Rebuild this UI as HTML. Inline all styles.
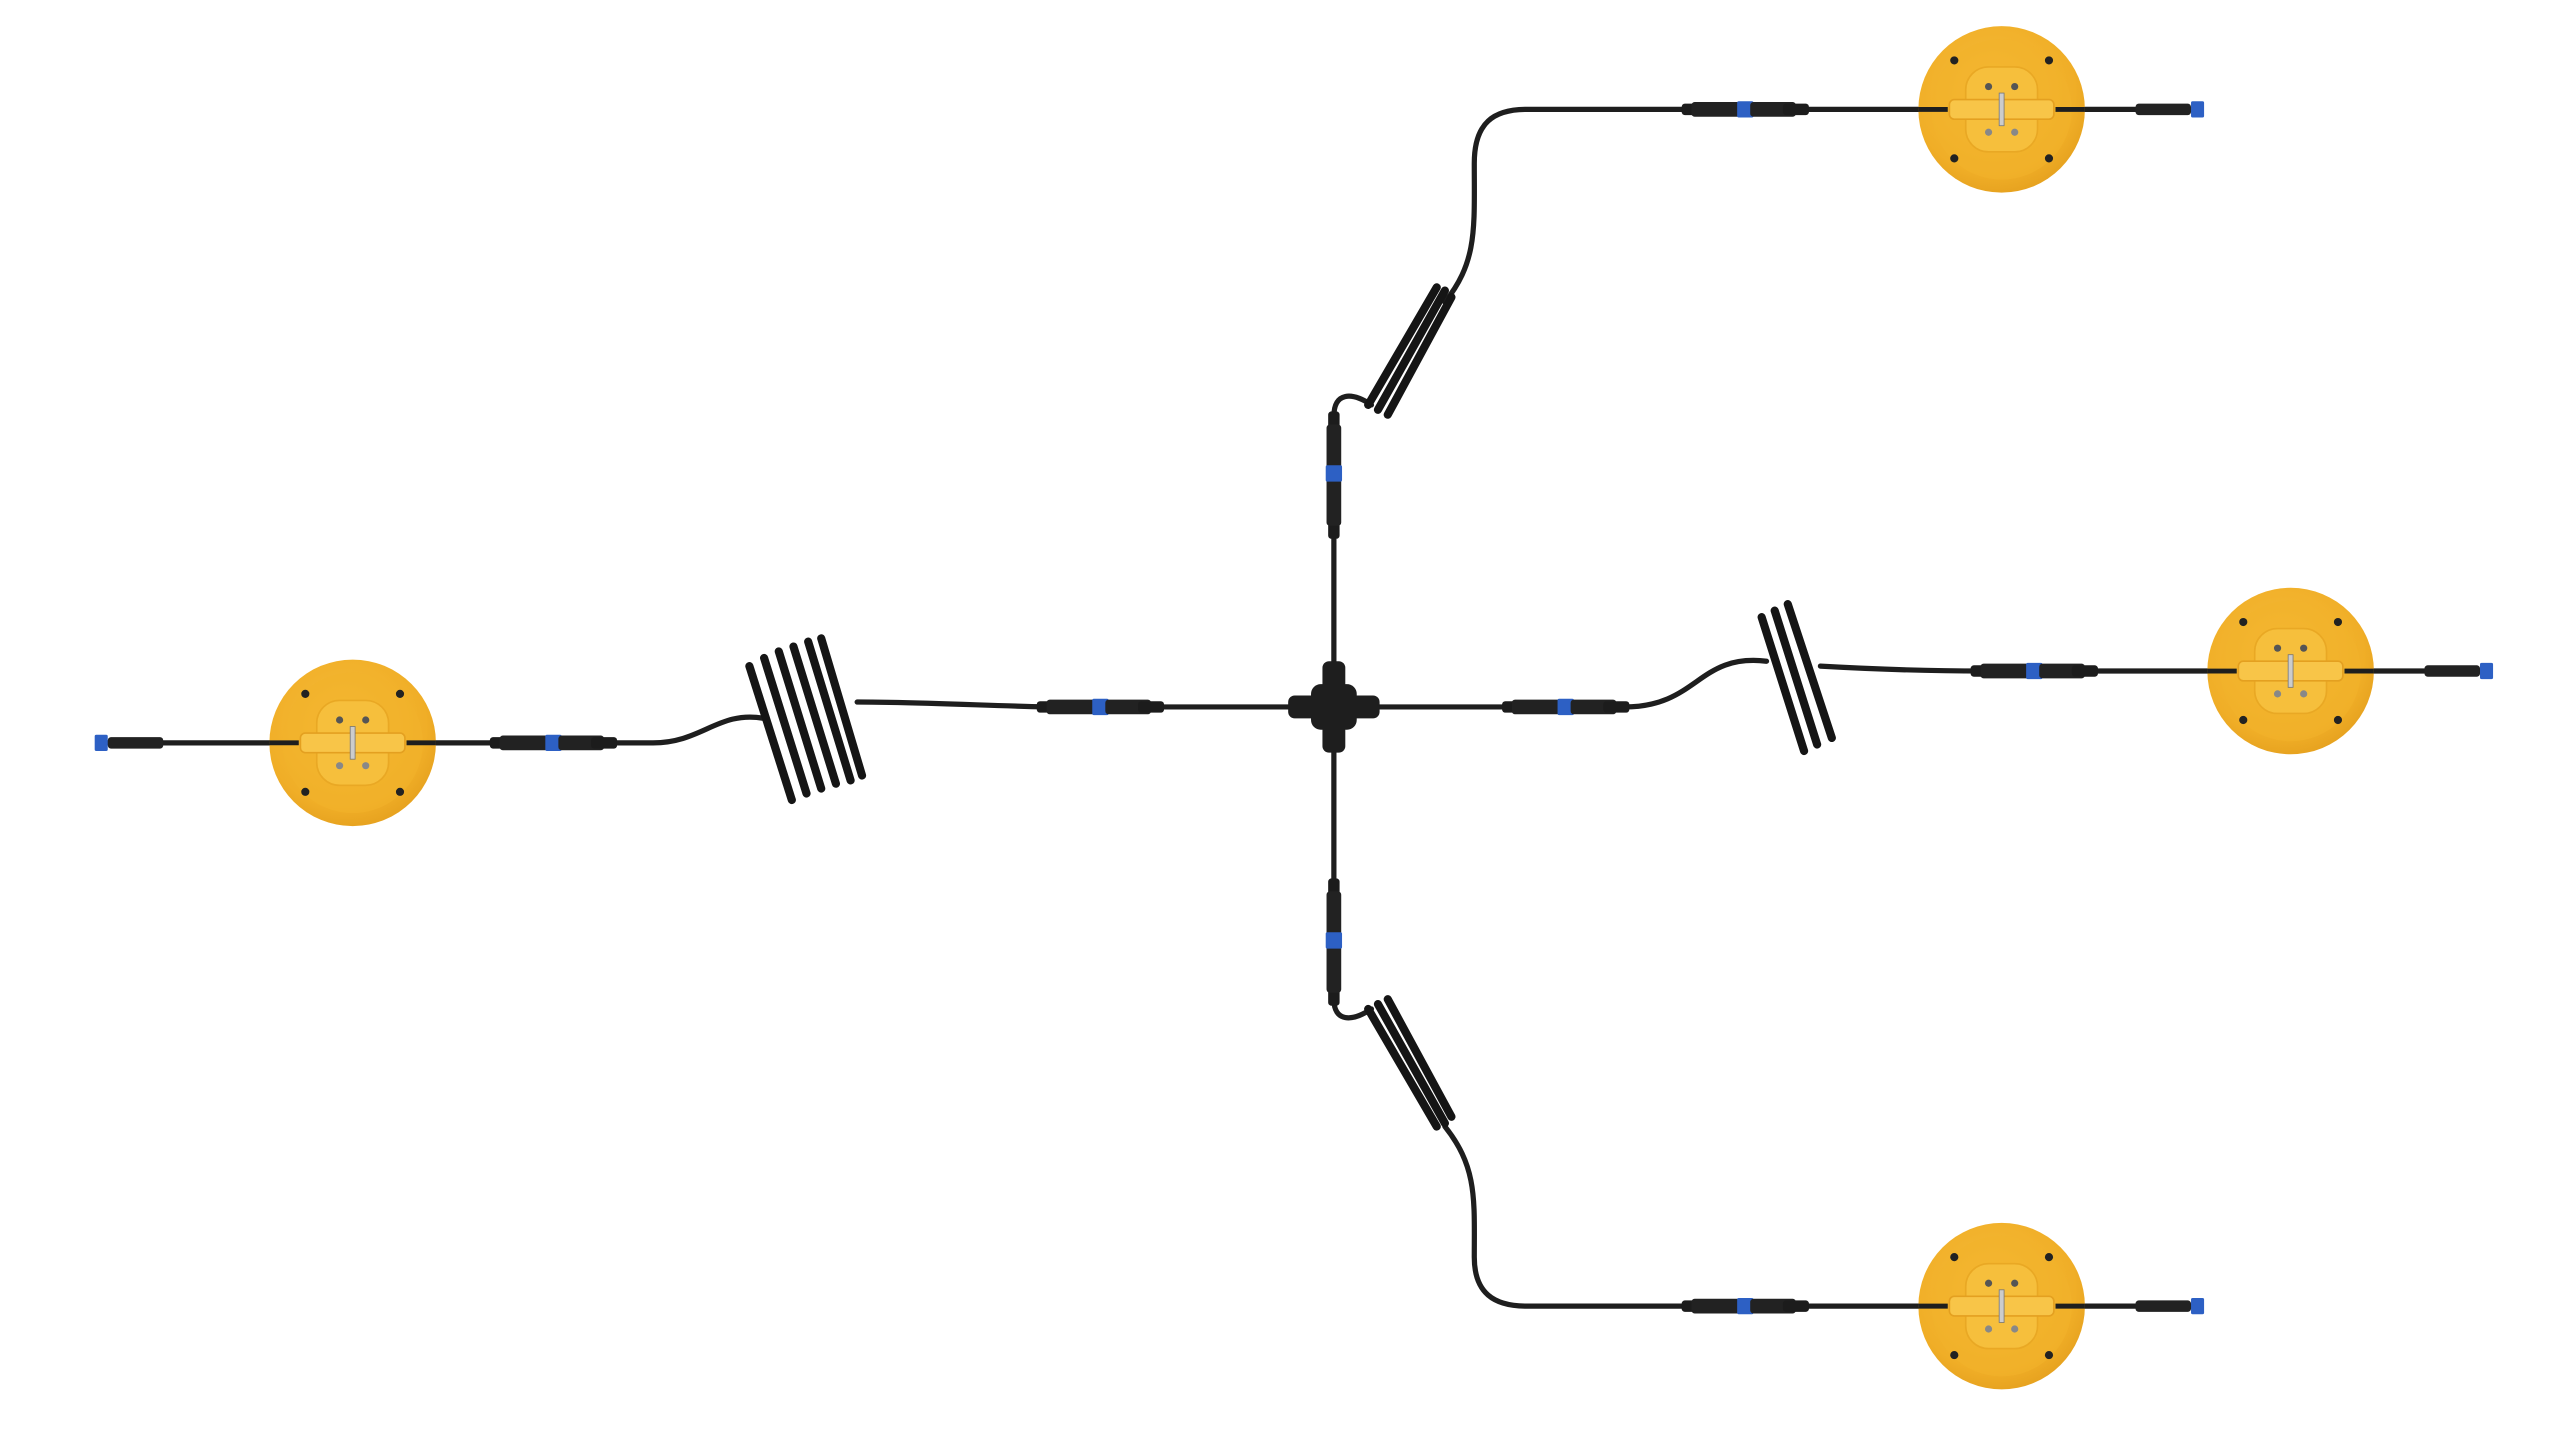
<!DOCTYPE html>
<html><head><meta charset="utf-8"><style>html,body{margin:0;padding:0;background:#fff}svg{display:block}</style></head>
<body>
<svg width="2560" height="1440" viewBox="0 0 1568 882" preserveAspectRatio="none" xmlns="http://www.w3.org/2000/svg">
<defs>
<radialGradient id="dg" cx="0.45" cy="0.4" r="0.7"><stop offset="0" stop-color="#f7bd3a"/><stop offset="0.7" stop-color="#f0ae27"/><stop offset="1" stop-color="#e09a1a"/></radialGradient>
<g id="disc">
<circle r="51" fill="url(#dg)"/>
<circle r="43" fill="#f2b22c" opacity="0.6"/>
<rect x="-22" y="-26" width="44" height="52" rx="14" fill="#f6bf3c" stroke="#e9a824" stroke-width="1"/>
<circle cx="-29" cy="-30" r="2.5" fill="#222"/><circle cx="29" cy="-30" r="2.5" fill="#222"/>
<circle cx="-29" cy="30" r="2.5" fill="#222"/><circle cx="29" cy="30" r="2.5" fill="#222"/>
<circle cx="-8" cy="-14" r="2.2" fill="#555"/><circle cx="8" cy="-14" r="2.2" fill="#555"/>
<circle cx="-8" cy="14" r="2.2" fill="#888"/><circle cx="8" cy="14" r="2.2" fill="#888"/>
<rect x="-32" y="-6" width="64" height="12" rx="3" fill="#f8c548" stroke="#e4a020" stroke-width="1"/>
<rect x="-1.5" y="-10" width="3" height="20" fill="#ccc" stroke="#777" stroke-width="0.5"/>
</g>
<g id="conn">
<rect x="0" y="-3.5" width="30" height="7" rx="2" fill="#1c1c1c"/>
<rect x="6" y="-4.5" width="30" height="9" rx="2" fill="#222"/>
<rect x="34" y="-5" width="10" height="10" rx="1" fill="#2d60c4"/>
<rect x="42" y="-4.5" width="28" height="9" rx="2" fill="#222"/>
<rect x="62" y="-3.5" width="16" height="7" rx="2" fill="#1c1c1c"/>
</g>
<g id="vconn">
<rect x="-3.5" y="0" width="7" height="78" rx="2" fill="#1c1c1c"/>
<rect x="-4.5" y="8" width="9" height="62" rx="2" fill="#222"/>
<rect x="-5" y="33" width="10" height="10" rx="1" fill="#2d60c4"/>
</g>
<g id="endc">
<rect x="0" y="-3.5" width="34" height="7" rx="2" fill="#222"/>
<rect x="34" y="-5" width="8" height="10" rx="1" fill="#2d60c4"/>
</g>
</defs>
<g fill="none" stroke="#1e1e1e" stroke-width="3.2" stroke-linecap="round">
<line x1="700" y1="433" x2="930" y2="433"/>
<line x1="817" y1="300" x2="817" y2="560"/>
<path d="M640 433 C600 432 560 430 525 430"/>
<path d="M468 440 C440 435 430 455 400 455 L60 455"/>
<path d="M995 433 C1040 433 1040 400 1082 405"/>
<path d="M1115 408 C1150 410 1180 411 1215 411 L1520 411"/>
<path d="M817 255 C817 240 828 240 840 248"/>
<path d="M885 185 C905 160 903 140 903 100 C903 75 915 67 935 67 L1345 67"/>
<path d="M817 612 C817 626 828 626 840 618"/>
<path d="M885 690 C905 715 903 735 903 770 C903 792 915 800 935 800 L1345 800"/>
</g>
<g stroke="#151515" stroke-width="5" stroke-linecap="round" fill="none">
<line x1="459" y1="408" x2="485" y2="490"/>
<line x1="468" y1="403" x2="494" y2="486"/>
<line x1="477" y1="399" x2="503" y2="483"/>
<line x1="486" y1="396" x2="512" y2="480"/>
<line x1="495" y1="393" x2="521" y2="478"/>
<line x1="503" y1="391" x2="528" y2="475"/>
<line x1="1079" y1="378" x2="1105" y2="460"/>
<line x1="1087" y1="374" x2="1113" y2="456"/>
<line x1="1095" y1="370" x2="1122" y2="452"/>
<line x1="838" y1="248" x2="880" y2="176"/>
<line x1="844" y1="251" x2="885" y2="178"/>
<line x1="850" y1="254" x2="889" y2="182"/>
<line x1="838" y1="618" x2="880" y2="690"/>
<line x1="844" y1="615" x2="885" y2="688"/>
<line x1="850" y1="612" x2="889" y2="684"/>
</g>
<g fill="#1e1e1e">
<rect x="789" y="426" width="56" height="14" rx="4"/>
<rect x="810" y="405" width="14" height="56" rx="4"/>
<rect x="803" y="419" width="28" height="28" rx="6"/>
</g>
<use href="#conn" x="635" y="433"/>
<use href="#conn" x="920" y="433"/>
<use href="#conn" x="300" y="455"/>
<use href="#conn" x="1207" y="411"/>
<use href="#conn" x="1030" y="67"/>
<use href="#conn" x="1030" y="800"/>
<use href="#vconn" x="817" y="252"/>
<use href="#vconn" x="817" y="538"/>
<g transform="translate(100 455) scale(-1 1)"><use href="#endc"/></g>
<use href="#endc" x="1485" y="411"/>
<use href="#endc" x="1308" y="67"/>
<use href="#endc" x="1308" y="800"/>
<use href="#disc" x="216" y="455"/>
<use href="#disc" x="1403" y="411"/>
<use href="#disc" x="1226" y="67"/>
<use href="#disc" x="1226" y="800"/>
<g stroke="#1e1e1e" stroke-width="3">
<line x1="165" y1="455" x2="183" y2="455"/><line x1="249" y1="455" x2="267" y2="455"/>
<line x1="1352" y1="411" x2="1370" y2="411"/><line x1="1436" y1="411" x2="1454" y2="411"/>
<line x1="1175" y1="67" x2="1193" y2="67"/><line x1="1259" y1="67" x2="1277" y2="67"/>
<line x1="1175" y1="800" x2="1193" y2="800"/><line x1="1259" y1="800" x2="1277" y2="800"/>
</g>
</svg>
</body></html>
